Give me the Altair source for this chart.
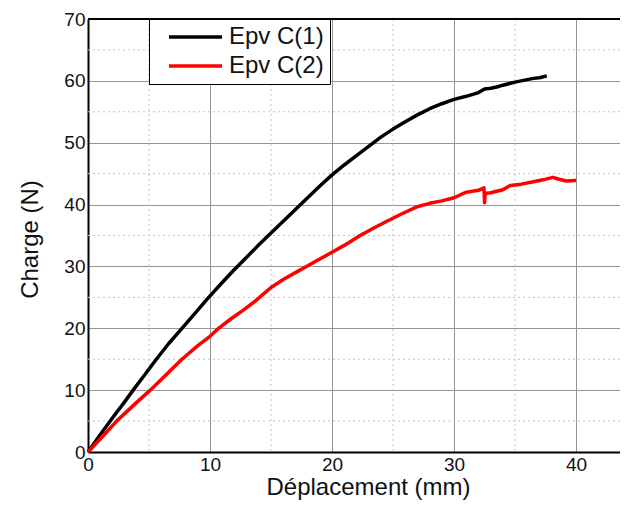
import altair as alt
import pandas as pd

series = ["Epv C(1)", "Epv C(2)"]
colors = ["black", "red"]

c1_x = [0, 1, 2, 3, 3.7, 4.7, 5.6, 6.6, 7.7, 8.8, 9.8, 11.0, 12.0, 13.0, 14.0, 15.0, 16.0, 17.0, 18.0, 19.0,
        20.0, 21.0, 22.0, 23.0, 24.0, 25.0, 26.0, 27.0, 28.0, 29.0, 30.0, 31.0, 32.0, 32.5, 33.0, 33.5, 34.0,
        35.0, 36.0, 36.5, 37.0, 37.6]
c1_y = [0, 2.8, 5.5, 8.1, 10.0, 12.6, 15.0, 17.5, 20.0, 22.5, 24.8, 27.4, 29.5, 31.5, 33.5, 35.4, 37.3, 39.2, 41.1, 43.0,
        44.8, 46.4, 47.9, 49.4, 50.9, 52.2, 53.4, 54.5, 55.5, 56.3, 57.0, 57.5, 58.1, 58.7, 58.8, 59.0, 59.3,
        59.8, 60.2, 60.4, 60.5, 60.8]

c2_x = [0, 1, 2.35, 3.7, 5.1, 6.4, 7.7, 9.0, 10.0, 10.7, 11.7, 12.7, 13.7, 15.0, 16.0, 17.0, 17.9, 19.0, 20.0,
        21.0, 22.3, 23.5, 24.5, 25.6, 26.9, 28.0, 29.0, 30.0, 31.0, 32.0, 32.45, 32.5, 32.55, 33.0, 34.0,
        34.6, 35.5, 36.5, 37.3, 38.1, 38.6, 39.2, 40.0]
c2_y = [0, 2.1, 5.0, 7.5, 10.0, 12.5, 15.0, 17.2, 18.7, 20.0, 21.5, 22.9, 24.4, 26.6, 27.9, 29.0, 30.0, 31.2, 32.3,
        33.4, 35.0, 36.3, 37.3, 38.4, 39.6, 40.2, 40.6, 41.1, 42.0, 42.3, 42.7, 40.3, 41.8, 41.9, 42.4,
        43.1, 43.3, 43.7, 44.0, 44.4, 44.1, 43.8, 43.9]

x_ticks = [0, 10, 20, 30, 40]
y_ticks = [0, 10, 20, 30, 40, 50, 60, 70]
x_minor = [5, 15, 25, 35]
y_minor = [5, 15, 25, 35, 45, 55, 65]
x_max = 43.6
y_max = 70

FONT = "Liberation Sans"

rows = []
for i, (x, y) in enumerate(zip(c1_x, c1_y)):
    rows.append({"x": x, "y": y, "s": series[0], "o": i})
for i, (x, y) in enumerate(zip(c2_x, c2_y)):
    rows.append({"x": x, "y": y, "s": series[1], "o": i})
df = pd.DataFrame(rows)

xscale = alt.Scale(domain=[0, x_max], nice=False, zero=True)
yscale = alt.Scale(domain=[0, y_max], nice=False, zero=True)

xaxis = alt.Axis(values=x_ticks, title="Déplacement (mm)", grid=True, gridColor="#959595",
                 gridWidth=1, domainColor="black", domainWidth=2, ticks=False,
                 labelPadding=3, labelFontSize=19, labelColor="#111", labelFont=FONT,
                 titleFont=FONT, titleFontSize=24, titleFontWeight="normal", titleColor="#111",
                 titleX=280, titleY=42, titleBaseline="alphabetic", format="d",
                 labelFlush=False)
yaxis = alt.Axis(values=y_ticks, title="Charge (N)", grid=True, gridColor="#959595",
                 gridWidth=1, domainColor="black", domainWidth=2, ticks=False,
                 labelPadding=3, labelFontSize=19, labelColor="#111", labelFont=FONT,
                 titleFont=FONT, titleFontSize=24, titleFontWeight="normal", titleColor="#111",
                 titleX=-51, titleY=220, titleBaseline="alphabetic", titleAngle=270,
                 format="d", labelFlush=False)

minor_x_df = pd.DataFrame({"x": x_minor})
minor_y_df = pd.DataFrame({"y": y_minor})
top_df = pd.DataFrame({"y": [y_max]})

lines = alt.Chart(df).mark_line(strokeWidth=3.5, strokeJoin="round").encode(
    x=alt.X("x:Q", scale=xscale, axis=xaxis),
    y=alt.Y("y:Q", scale=yscale, axis=yaxis),
    color=alt.Color("s:N", scale=alt.Scale(domain=series, range=colors),
                    legend=alt.Legend(title=None, orient="none", legendX=61, legendY=0,
                                      fillColor="white", strokeColor="black", padding=6,
                                      symbolType="M0.33,0H9.17", symbolSize=144, symbolStrokeWidth=3.5,
                                      labelOffset=50, labelFontSize=24, labelFont=FONT,
                                      labelColor="#111", rowPadding=5, cornerRadius=0)),
    order="o:Q",
)

minor_v = alt.Chart(minor_x_df).mark_rule(color="#c4c4c4", strokeWidth=1, strokeDash=[2, 3]).encode(
    x=alt.X("x:Q", scale=xscale, axis=xaxis))
minor_h = alt.Chart(minor_y_df).mark_rule(color="#c4c4c4", strokeWidth=1, strokeDash=[2, 3]).encode(
    y=alt.Y("y:Q", scale=yscale, axis=yaxis))
top_border = alt.Chart(top_df).mark_rule(color="black", strokeWidth=2).encode(
    y=alt.Y("y:Q", scale=yscale, axis=yaxis))

chart = alt.layer(minor_v, minor_h, lines, top_border).properties(
    width=532, height=433,
    autosize=alt.AutoSizeParams(type="none"),
    padding={"left": 80, "top": 11, "right": 0, "bottom": 48},
).configure_view(stroke=None).configure(background="white")

chart.save("out.html", embed_options={"renderer": "svg", "actions": False})
